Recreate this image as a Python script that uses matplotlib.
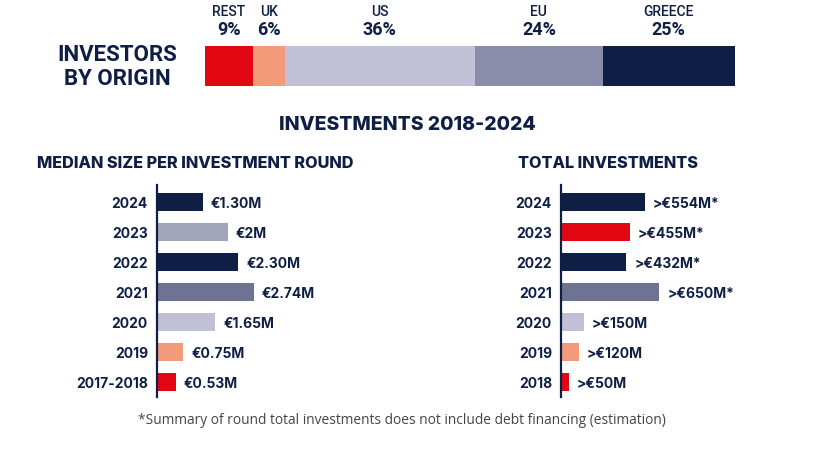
import numpy as np
import matplotlib
matplotlib.use("Agg")
import matplotlib.pyplot as plt

# investors by origin
origin_names = ['REST', 'UK', 'US', 'EU', 'GREECE']
origin_share = [9, 6, 36, 24, 25]

# median size per investment round (EUR M)
median_years = ['2024', '2023', '2022', '2021', '2020', '2019', '2017-2018']
median_vals = [1.30, 2, 2.30, 2.74, 1.65, 0.75, 0.53]
median_labels = ['€1.30M', '€2M', '€2.30M', '€2.74M', '€1.65M', '€0.75M', '€0.53M']

# total investments (EUR M)
total_years = ['2024', '2023', '2022', '2021', '2020', '2019', '2018']
total_vals = [554, 455, 432, 650, 150, 120, 50]
total_labels = ['>€554M*', '>€455M*', '>€432M*', '>€650M*', '>€150M', '>€120M', '>€50M']

NAVY = '#0e1e45'
RED = '#e30613'
SALMON = '#f29a7a'
LIGHT = '#c0c1d6'
MID = '#8a8caa'
DARKMID = '#6e7293'
GREYMID = '#a3a5bd'

origin_colors = [RED, SALMON, LIGHT, MID, NAVY]
median_colors = [NAVY, GREYMID, NAVY, DARKMID, LIGHT, SALMON, RED]
total_colors = [NAVY, RED, NAVY, DARKMID, LIGHT, SALMON, RED]

plt.rcParams['font.family'] = ['Inter', 'DejaVu Sans']

W, H = 830, 473
fig = plt.figure(figsize=(W / 100, H / 100), dpi=100)


def px_axes(x0, y0, x1, y1):
    # pixel box (top-left origin) -> figure axes
    return fig.add_axes([x0 / W, 1 - y1 / H, (x1 - x0) / W, (y1 - y0) / H])


# ---- top stacked bar (1 y-unit = 40 px)
ax0 = px_axes(205, 46, 735, 86)
left = 0
for name, share, c in zip(origin_names, origin_share, origin_colors):
    ax0.barh(0, share, left=left, height=1, color=c)
    mid = left + share / 2
    ax0.text(mid, 54 / 40, name, ha='center', va='center', fontsize=10,
             color=NAVY, fontfamily='Roboto', fontweight='medium')
    ax0.text(mid, 36 / 40, f'{share}%', ha='center', va='center', fontsize=13,
             color=NAVY, fontfamily='Roboto', fontweight='bold')
    left += share
ax0.set_xlim(0, 100)
ax0.set_ylim(-0.5, 0.5)
ax0.axis('off')

fig.text(117 / W, 1 - 67 / H, 'INVESTORS\nBY ORIGIN', ha='center', va='center',
         fontsize=16, fontweight='bold', color=NAVY, fontfamily='Roboto',
         linespacing=1.1)

fig.text(407 / W, 1 - 125 / H, 'INVESTMENTS 2018-2024', ha='center', va='center',
         fontsize=14, fontweight='heavy', color=NAVY)


def bar_panel(x0, xmax_px, title, title_x, years, vals, labels, colors, k):
    ax = px_axes(x0, 185, xmax_px, 397)
    y = np.arange(len(years))
    ax.barh(y, vals, height=0.6, color=colors)
    off = 8 / k
    for yi, v, lab in zip(y, vals, labels):
        ax.text(v + off, yi, lab, ha='left', va='center_baseline', fontsize=10,
                fontweight='bold', color=NAVY)
    ax.set_xlim(0, (xmax_px - x0) / k)
    ax.set_ylim(6.5, -0.567)
    ax.set_yticks(y)
    ax.set_yticklabels(years, fontsize=10, fontweight='bold', color=NAVY,
                       va='center_baseline')
    ax.tick_params(axis='y', length=0, pad=6.5)
    ax.set_xticks([])
    for s in ['top', 'right', 'bottom']:
        ax.spines[s].set_visible(False)
    ax.spines['left'].set_color(NAVY)
    ax.spines['left'].set_linewidth(1.6)
    fig.text(title_x / W, 1 - 163 / H, title, ha='left', va='center',
             fontsize=11.7, fontweight='heavy', color=NAVY)
    return ax


bar_panel(157, 420, 'MEDIAN SIZE PER INVESTMENT ROUND', 37,
          median_years, median_vals, median_labels, median_colors, 35.3)
bar_panel(561, 800, 'TOTAL INVESTMENTS', 518,
          total_years, total_vals, total_labels, total_colors, 0.151)

fig.text(402 / W, 1 - 420 / H,
         '*Summary of round total investments does not include debt financing (estimation)',
         ha='center', va='center', fontsize=9.9, color='#444444',
         fontfamily='Open Sans')

fig.savefig('out.png', dpi=100, facecolor='white')
